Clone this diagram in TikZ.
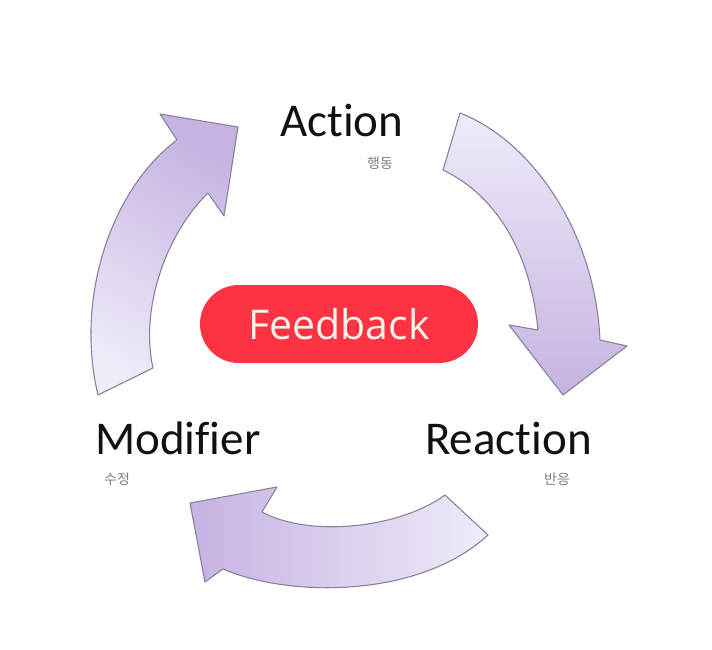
\documentclass[tikz,border=0pt]{standalone}
\usepackage{fontspec}
\setmainfont{Carlito}[Ligatures=NoCommon]
\newfontfamily\fbfont{Open Sans}
\newfontfamily\krfont{Noto Sans CJK KR}
\definecolor{arrlight}{HTML}{F0EBF9}
\definecolor{arrdark}{HTML}{C5B3E2}
\definecolor{arredge}{HTML}{8A829C}
\definecolor{fbred}{HTML}{FD3343}
\definecolor{fbtext}{HTML}{F7F2EA}
\definecolor{krgray}{HTML}{7F7F7F}
\definecolor{lbltext}{HTML}{111111}
\begin{document}
\begin{tikzpicture}[x=1pt,y=-1pt,
  cyclearrow/.style={draw=arredge, line width=1.1pt, line join=round},
  mainlabel/.style={anchor=base west, inner sep=0pt, font=\fontsize{47}{52}\selectfont, text=lbltext},
  krlabel/.style={anchor=base west, inner sep=0pt, font=\krfont\fontsize{14}{16}\selectfont, text=krgray},
  pill/.style={fill=fbred, rounded corners=39pt, minimum width=278pt, minimum height=78pt, inner sep=0pt, text=fbtext, font=\fbfont\fontsize{41}{46}\selectfont}]
\useasboundingbox (0,0) rectangle (712,650);
\fill[white] (0,0) rectangle (712,650);
% right arrow (Action -> Reaction)
\path[cyclearrow, top color=arrlight, bottom color=arrdark]
  (460,113) .. controls (530,140) and (595,230) .. (600,340)
  -- (627,346) -- (563,395) -- (509,325) -- (538,330)
  .. controls (530,250) and (495,195) .. (443,170)
  -- cycle;
% bottom arrow (Reaction -> Modifier)
\path[cyclearrow, left color=arrdark, right color=arrlight]
  (445,495) .. controls (400,528) and (310,538) .. (262,512)
  -- (277,487) -- (190,503) -- (205,582) -- (223,569)
  .. controls (290,598) and (420,598) .. (488,535)
  -- cycle;
% left arrow (Modifier -> Action)
\path[cyclearrow, top color=arrdark, bottom color=arrlight, shading angle=-30]
  (98,395) .. controls (75,300) and (110,190) .. (177,140)
  -- (160,114) -- (238,127) -- (224,216) -- (208,193)
  .. controls (165,235) and (140,310) .. (153,368)
  -- cycle;
% labels
\node[mainlabel] (action) at (280,137) {Action};
\node[krlabel] (actionkr) at (367,168) {행동};
\node[mainlabel] (modifier) at (95,454) {Modifier};
\node[krlabel] (modifierkr) at (104,484) {수정};
\node[mainlabel] (reaction) at (425,454) {Reaction};
\node[krlabel] (reactionkr) at (544,484) {반응};
\node[pill] (feedback) at (339,324) {Feedback};
\end{tikzpicture}
\end{document}
